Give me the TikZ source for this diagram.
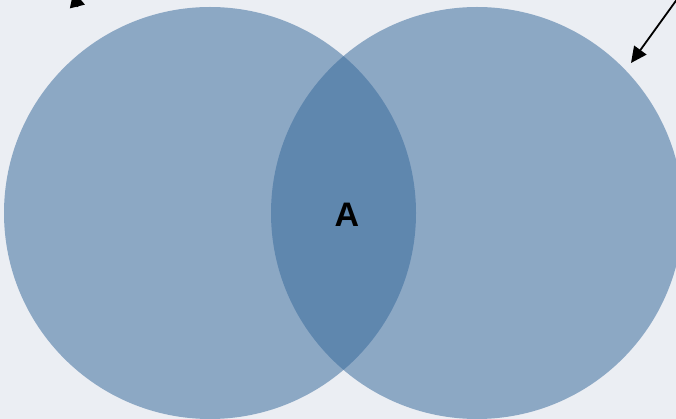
\documentclass[tikz,border=0pt]{standalone}
\usepackage{fontspec}
\setmainfont{Liberation Sans}
\usetikzlibrary{arrows.meta}
\definecolor{bgc}{RGB}{235,238,243}
\definecolor{setc}{RGB}{56,106,156}
\tikzset{
  setcircle/.style={fill=setc, fill opacity=0.53, draw=none},
  pointer/.style={line width=1.8pt, -{Triangle[length=16pt,width=15pt]}},
}
\begin{document}
\begin{tikzpicture}[x=1pt,y=-1pt]
\fill[bgc] (0,0) rectangle (676,419);
\useasboundingbox (0,0) rectangle (676,419);
\begin{scope}
\clip (0,0) rectangle (676,419);
\fill[setcircle] (210,213) circle[radius=206];
\fill[setcircle] (477,213) circle[radius=206];
\node[font=\bfseries\fontsize{34}{38}\selectfont, text=black] (lblA) at (347,215) {A};
\coordinate (trs) at (683,-9);
\coordinate (tre) at (631,63);
\draw[pointer] (trs) -- (tre);
\coordinate (tls) at (77.5,7);
\coordinate (tle) at (73.5,-9);
\draw[pointer] (tls) -- (tle);
\end{scope}
\end{tikzpicture}
\end{document}
